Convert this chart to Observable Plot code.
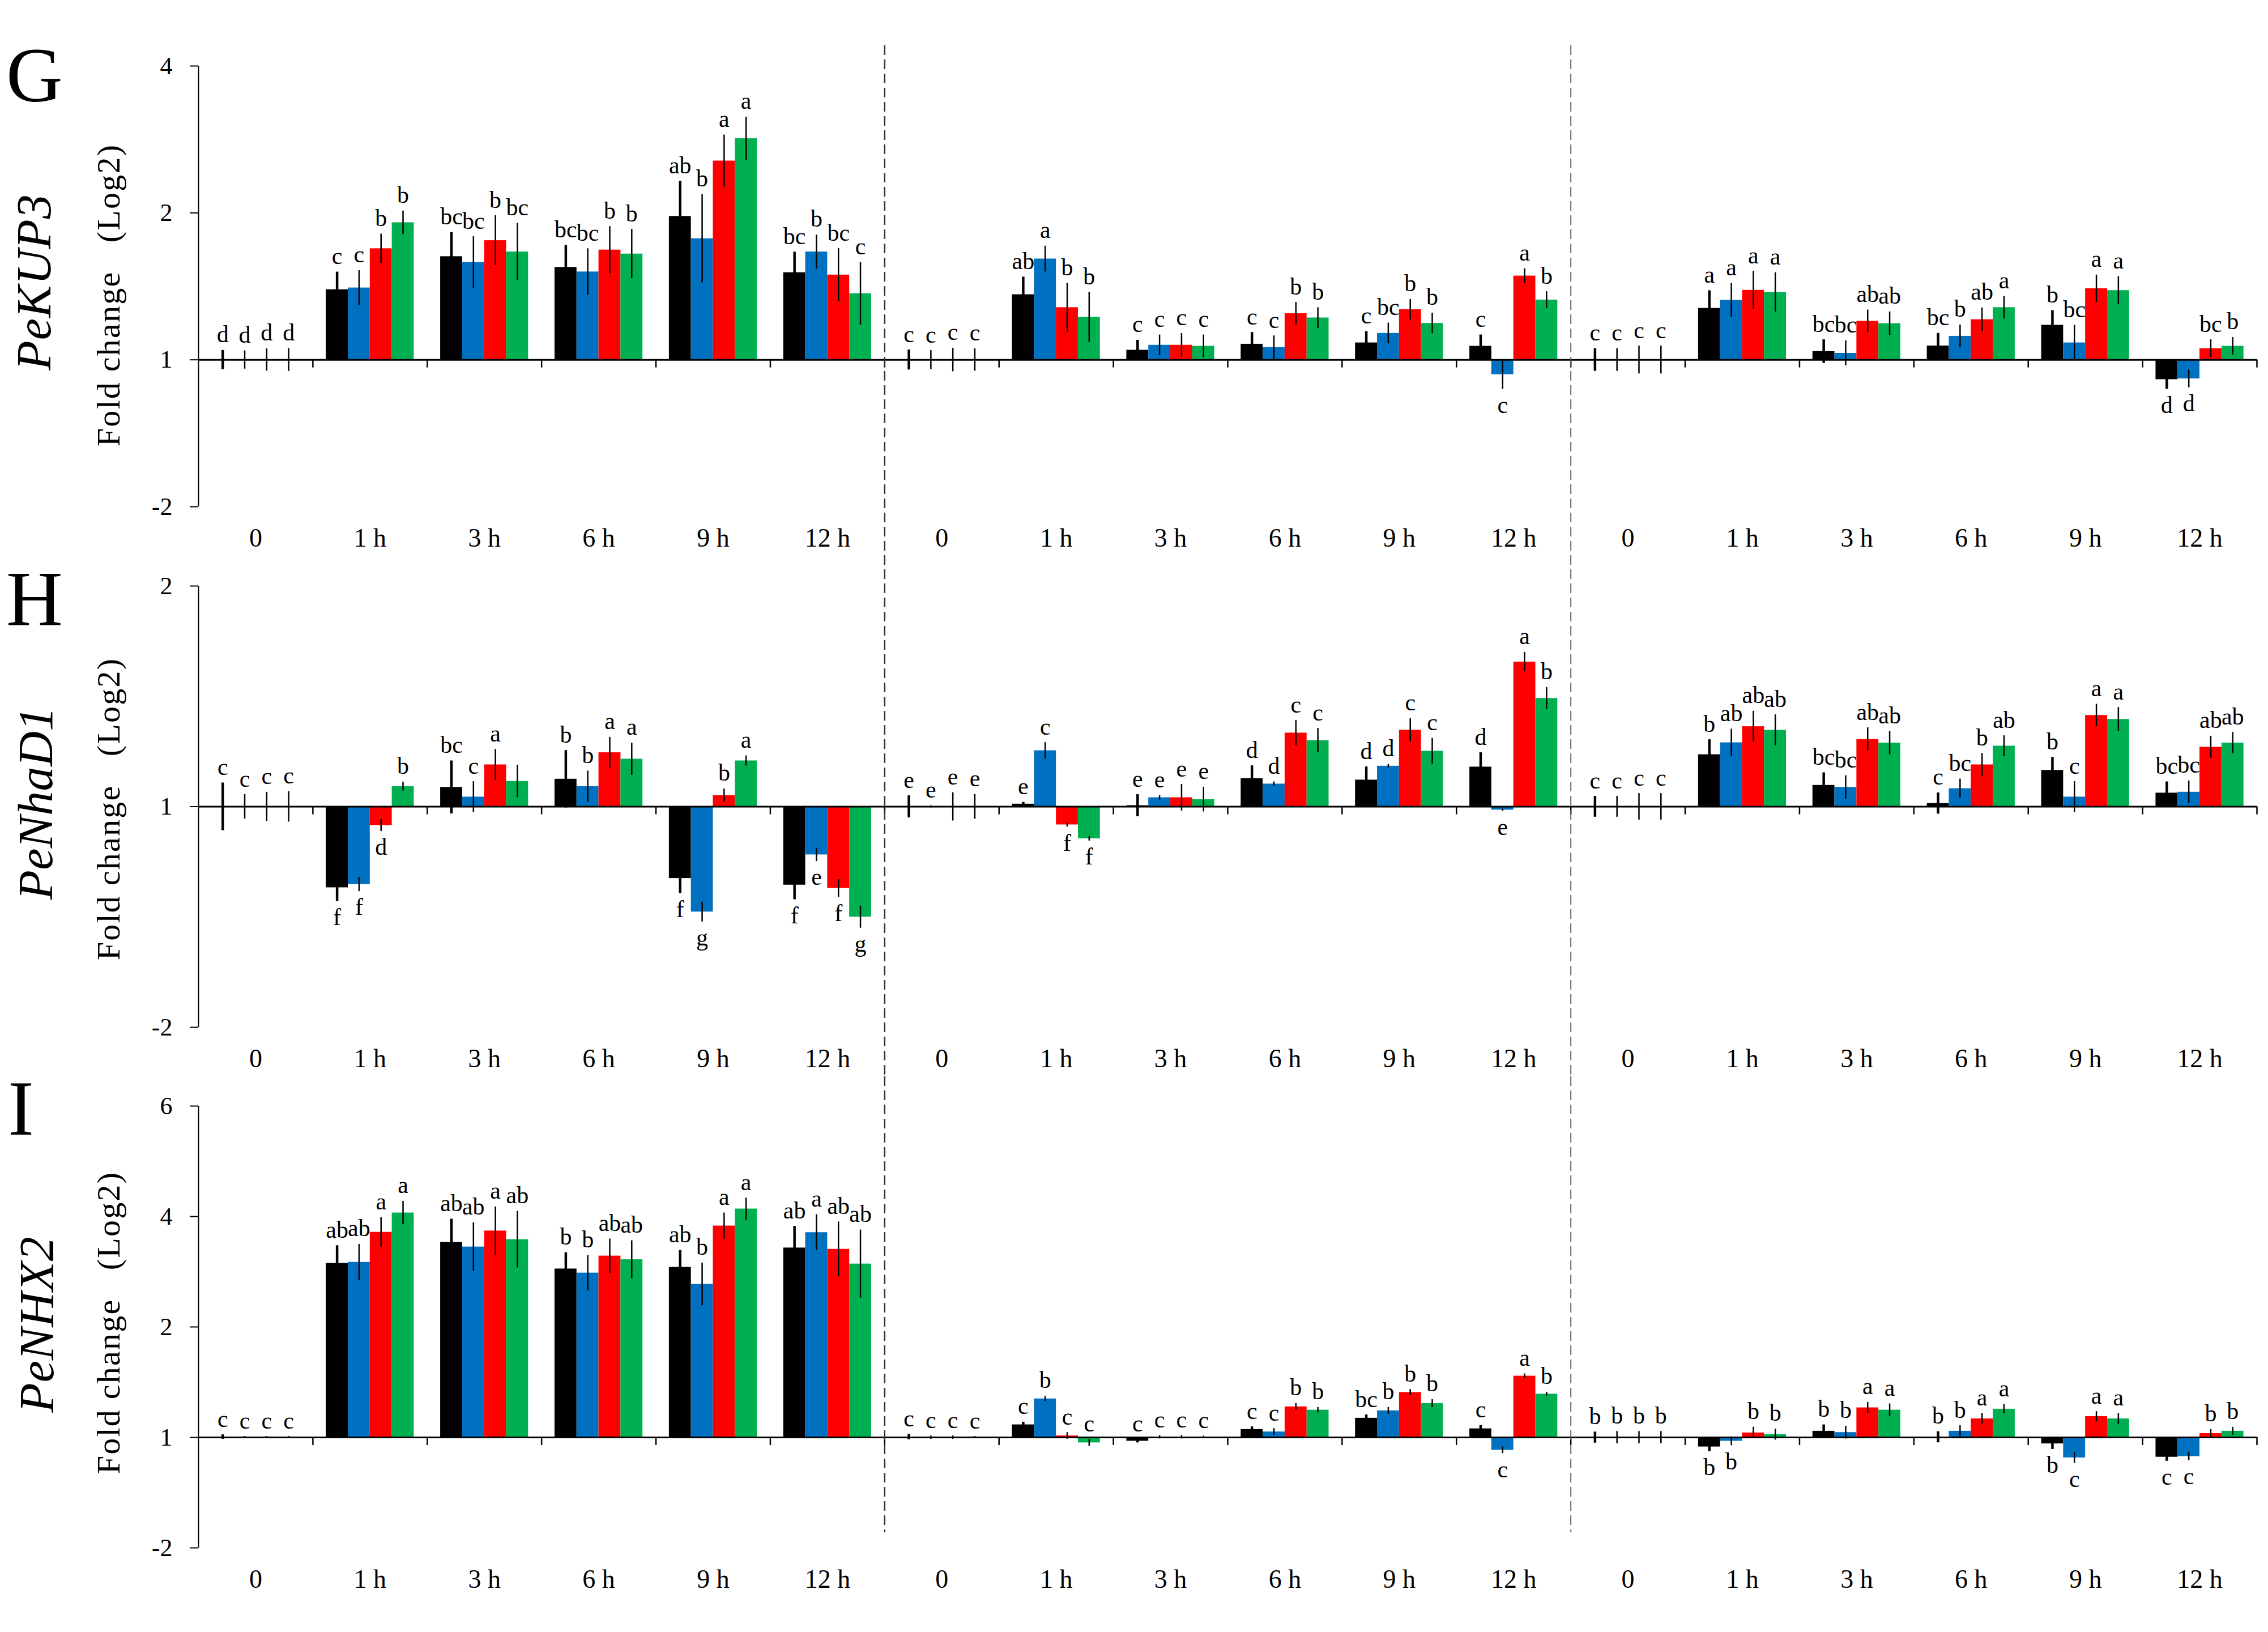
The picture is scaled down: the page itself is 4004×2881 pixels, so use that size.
<!DOCTYPE html>
<html>
<head>
<meta charset="utf-8">
<script src="https://cdn.jsdelivr.net/npm/d3@7"></script>
<script src="https://cdn.jsdelivr.net/npm/@observablehq/plot@0.6"></script>
<style>
html, body { margin: 0; padding: 0; background: #fff; }
#root { position: relative; width: 4004px; height: 2881px; overflow: hidden; font-family: "Liberation Serif", "Times New Roman", serif; color: #000; }
.panel { position: absolute; left: 0; }
.panel svg text { font-family: "Liberation Serif", "Times New Roman", serif; }
.tag { position: absolute; font-size: 138px; line-height: 1; }
.rot { position: absolute; white-space: pre; line-height: 1; transform: translate(-50%, -50%) rotate(-90deg); }
.gene { font-style: italic; font-size: 86px; }
.ylab { font-size: 58px; letter-spacing: 2px; }
</style>
</head>
<body>
<div id="root"></div>
<script>
// ---------- categories ----------
const timePoints = ["0", "1 h", "3 h", "6 h", "9 h", "12 h"];
const sectionKeys = ["A", "B", "C"];
const seriesKeys = ["S1", "S2", "S3", "S4"];
const seriesColors = ["#000000", "#0070C0", "#FF0000", "#00B050"];
const yTitle = "Fold change   (Log2)";

// ---------- G : PeKUP3 ----------
const kup3Ticks = [-1, 0, 1, 2];
const kup3TickLabels = ["-2", "1", "2", "4"];
const kup3Values = [
  [0, 0, 0, 0], [0.478, 0.49, 0.757, 0.934], [0.703, 0.664, 0.812, 0.735], [0.63, 0.599, 0.748, 0.721], [0.977, 0.825, 1.354, 1.506], [0.594, 0.735, 0.578, 0.451],
  [0, 0, 0, 0], [0.444, 0.687, 0.356, 0.29], [0.066, 0.10, 0.10, 0.093], [0.107, 0.084, 0.315, 0.286], [0.116, 0.181, 0.342, 0.249], [0.093, -0.10, 0.571, 0.408],
  [0, 0, 0, 0], [0.351, 0.406, 0.474, 0.46], [0.057, 0.045, 0.263, 0.247], [0.095, 0.161, 0.274, 0.356], [0.236, 0.116, 0.485, 0.472], [-0.134, -0.129, 0.077, 0.093]
];
const kup3Errors = [
  [0.065, 0.062, 0.076, 0.078], [0.12, 0.118, 0.10, 0.08], [0.165, 0.175, 0.17, 0.195], [0.15, 0.158, 0.16, 0.168], [0.24, 0.30, 0.177, 0.147], [0.14, 0.116, 0.18, 0.213],
  [0.068, 0.064, 0.08, 0.076], [0.12, 0.088, 0.166, 0.17], [0.068, 0.07, 0.08, 0.077], [0.08, 0.08, 0.077, 0.07], [0.077, 0.07, 0.07, 0.07], [0.077, 0.10, 0.05, 0.057],
  [0.077, 0.077, 0.095, 0.095], [0.12, 0.115, 0.13, 0.134], [0.08, 0.085, 0.077, 0.08], [0.086, 0.077, 0.08, 0.077], [0.10, 0.12, 0.093, 0.095], [0.066, 0.06, 0.06, 0.06]
];
const kup3Letters = [
  ["d", "d", "d", "d"], ["c", "c", "b", "b"], ["bc", "bc", "b", "bc"], ["bc", "bc", "b", "b"], ["ab", "b", "a", "a"], ["bc", "b", "bc", "c"],
  ["c", "c", "c", "c"], ["ab", "a", "b", "b"], ["c", "c", "c", "c"], ["c", "c", "b", "b"], ["c", "bc", "b", "b"], ["c", "c", "a", "b"],
  ["c", "c", "c", "c"], ["a", "a", "a", "a"], ["bc", "bc", "ab", "ab"], ["bc", "b", "ab", "a"], ["b", "bc", "a", "a"], ["d", "d", "bc", "b"]
];

// ---------- H : PeNhaD1 ----------
const nhad1Ticks = [-1, 0, 1];
const nhad1TickLabels = ["-2", "1", "2"];
const nhad1Values = [
  [0, 0, 0, 0], [-0.367, -0.352, -0.085, 0.092], [0.088, 0.044, 0.19, 0.115], [0.125, 0.092, 0.245, 0.216], [-0.325, -0.477, 0.051, 0.208], [-0.355, -0.218, -0.37, -0.50],
  [0, 0, 0, 0], [0.012, 0.254, -0.082, -0.145], [0.005, 0.041, 0.041, 0.033], [0.128, 0.103, 0.334, 0.30], [0.121, 0.184, 0.347, 0.252], [0.18, -0.015, 0.656, 0.491],
  [0, 0, 0, 0], [0.236, 0.29, 0.363, 0.347], [0.097, 0.088, 0.305, 0.289], [0.015, 0.082, 0.19, 0.275], [0.165, 0.044, 0.414, 0.396], [0.062, 0.066, 0.27, 0.289]
];
const nhad1Errors = [
  [0.108, 0.055, 0.066, 0.069], [0.062, 0.032, 0.027, 0.02], [0.12, 0.07, 0.07, 0.074], [0.13, 0.07, 0.07, 0.073], [0.068, 0.045, 0.03, 0.023], [0.066, 0.03, 0.04, 0.05],
  [0.05, 0.005, 0.064, 0.056], [0.008, 0.037, 0.01, 0.01], [0.05, 0.01, 0.06, 0.056], [0.058, 0.01, 0.057, 0.055], [0.06, 0.008, 0.053, 0.058], [0.065, 0.005, 0.044, 0.05],
  [0.047, 0.047, 0.06, 0.06], [0.068, 0.062, 0.07, 0.07], [0.057, 0.053, 0.053, 0.053], [0.048, 0.044, 0.052, 0.047], [0.059, 0.07, 0.051, 0.054], [0.051, 0.051, 0.05, 0.048]
];
const nhad1Letters = [
  ["c", "c", "c", "c"], ["f", "f", "d", "b"], ["bc", "c", "a", ""], ["b", "b", "a", "a"], ["f", "g", "b", "a"], ["f", "e", "f", "g"],
  ["e", "e", "e", "e"], ["e", "c", "f", "f"], ["e", "e", "e", "e"], ["d", "d", "c", "c"], ["d", "d", "c", "c"], ["d", "e", "a", "b"],
  ["c", "c", "c", "c"], ["b", "ab", "ab", "ab"], ["bc", "bc", "ab", "ab"], ["c", "bc", "b", "ab"], ["b", "c", "a", "a"], ["bc", "bc", "ab", "ab"]
];

// ---------- I : PeNHX2 ----------
const nhx2Ticks = [-1, 0, 1, 2, 3];
const nhx2TickLabels = ["-2", "1", "2", "4", "6"];
const nhx2Values = [
  [0.005, 0, 0, 0], [1.577, 1.586, 1.858, 2.033], [1.767, 1.725, 1.87, 1.792], [1.526, 1.489, 1.643, 1.61], [1.541, 1.387, 1.915, 2.069], [1.716, 1.855, 1.704, 1.571],
  [0.005, 0, 0, 0], [0.115, 0.35, 0.015, -0.048], [-0.033, 0.003, 0.003, 0.003], [0.073, 0.051, 0.278, 0.248], [0.175, 0.242, 0.408, 0.308], [0.079, -0.115, 0.556, 0.393],
  [0, 0, 0, 0], [-0.085, -0.033, 0.042, 0.027], [0.057, 0.045, 0.269, 0.248], [0.003, 0.057, 0.169, 0.257], [-0.057, -0.184, 0.19, 0.169], [-0.178, -0.172, 0.036, 0.057]
];
const nhx2Errors = [
  [0.02, 0.01, 0.01, 0.01], [0.16, 0.163, 0.133, 0.106], [0.21, 0.22, 0.218, 0.256], [0.148, 0.16, 0.155, 0.172], [0.154, 0.193, 0.118, 0.10], [0.196, 0.163, 0.248, 0.308],
  [0.025, 0.015, 0.015, 0.01], [0.024, 0.025, 0.03, 0.03], [0.015, 0.015, 0.015, 0.01], [0.024, 0.03, 0.03, 0.024], [0.03, 0.03, 0.027, 0.036], [0.03, 0.03, 0.021, 0.018],
  [0.05, 0.055, 0.055, 0.055], [0.042, 0.04, 0.052, 0.05], [0.058, 0.058, 0.05, 0.057], [0.05, 0.05, 0.05, 0.042], [0.05, 0.05, 0.045, 0.048], [0.036, 0.036, 0.036, 0.036]
];
const nhx2Letters = [
  ["c", "c", "c", "c"], ["ab", "ab", "a", "a"], ["ab", "ab", "a", "ab"], ["b", "b", "ab", "ab"], ["ab", "b", "a", "a"], ["ab", "a", "ab", "ab"],
  ["c", "c", "c", "c"], ["c", "b", "c", "c"], ["c", "c", "c", "c"], ["c", "c", "b", "b"], ["bc", "b", "b", "b"], ["c", "c", "a", "b"],
  ["b", "b", "b", "b"], ["b", "b", "b", "b"], ["b", "b", "a", "a"], ["b", "b", "a", "a"], ["b", "c", "a", "a"], ["c", "c", "b", "b"]
];
// letters of small negative bars that sit above the bar (group-series)
const nhx2LetterAbove = ["7-3", "8-0"];

// ---------- drawing ----------
const root = document.getElementById("root");
const FONT = '"Liberation Serif", "Times New Roman", serif';

function addRotated(cls, text, x, y, targetLength) {
  const el = document.createElement("div");
  el.className = "rot " + cls;
  el.textContent = text;
  el.style.left = x + "px";
  el.style.top = y + "px";
  root.appendChild(el);
  if (targetLength) {
    const base = parseFloat(getComputedStyle(el).letterSpacing) || 0;
    const w = el.offsetWidth;
    const extra = (targetLength - w) / text.length;
    el.style.letterSpacing = (base + extra) + "px";
  }
  return el;
}

function drawPanel(cfg) {
  const {tag, gene, values, errors, letters, ticks, tickLabels, top, height, marginTop, marginBottom,
         dashTop, dashBottom, letterAbove = [], tagTop, tagLeft, geneY, titleY, geneX, geneLength} = cfg;
  const pad = 0.1155, bw = 0.1922;
  const rows = [];
  values.forEach((vals, g) => vals.forEach((v, s) => {
    rows.push({
      g, s, section: sectionKeys[Math.floor(g / 6)], time: timePoints[g % 6],
      series: seriesKeys[s], value: v, err: errors[g][s], letter: letters[g][s],
      below: v < 0 && !letterAbove.includes(`${g}-${s}`)
    });
  }));
  const cx = d => d.g + pad + (d.s + 0.5) * bw;
  const y0 = ticks[0], y1 = ticks[ticks.length - 1];
  const ppu = (height - marginTop - marginBottom) / (y1 - y0);
  const groupEdges = d3.range(1, 19);
  const groupCenters = d3.range(18).map(g => g + 0.5);

  const svg = Plot.plot({
    width: 4004, height, marginLeft: 350, marginRight: 20, marginTop, marginBottom,
    x: {domain: [0, 18], axis: null},
    y: {domain: [y0, y1], axis: null},
    color: {domain: seriesKeys, range: seriesColors},
    style: {fontFamily: FONT, fontSize: "44px", background: "white", overflow: "visible", maxWidth: "none", color: "#000"},
    marks: [
      Plot.rect(rows, {x1: d => d.g + pad + d.s * bw, x2: d => d.g + pad + (d.s + 1) * bw, y1: 0, y2: "value", fill: "series"}),
      Plot.ruleY([0], {stroke: "#000", strokeWidth: 3}),
      Plot.ruleX(rows.filter(d => d.s === 0), {x: cx, y1: d => d.value - d.err, y2: d => d.value + d.err, stroke: "#000", strokeWidth: 4.5}),
      Plot.ruleX(rows.filter(d => d.s > 0), {x: cx, y1: d => d.value - d.err, y2: d => d.value + d.err, stroke: "#000", strokeWidth: 2.5}),
      Plot.ruleX(groupEdges, {y1: 0, y2: -14 / ppu, stroke: "#000", strokeWidth: 2.5}),
      Plot.ruleX([0], {stroke: "#000", strokeWidth: 2}),
      Plot.ruleX([6], {stroke: "#333", strokeWidth: 2.5, strokeDasharray: "17,8", insetTop: dashTop, insetBottom: dashBottom}),
      Plot.ruleX([12], {stroke: "#666", strokeWidth: 2, strokeDasharray: "17,8", insetTop: dashTop, insetBottom: dashBottom}),
      Plot.axisY(ticks, {anchor: "left", tickSize: 15, tickPadding: 31, strokeWidth: 2, fontFamily: FONT,
        tickFormat: d => tickLabels[ticks.indexOf(d)], fontSize: 44, label: null}),
      Plot.axisX(groupCenters, {anchor: "bottom", tickSize: 0, tickPadding: 38, fontFamily: FONT,
        tickFormat: d => timePoints[Math.floor(d) % 6], fontSize: 46, label: null}),
      Plot.text(rows.filter(d => !d.below && d.letter), {x: cx, y: d => d.value + d.err, text: "letter",
        lineAnchor: "bottom", dy: -14, fontSize: 42, fontFamily: FONT, fill: "#000"}),
      Plot.text(rows.filter(d => d.below && d.letter), {x: cx, y: d => d.value - d.err, text: "letter",
        lineAnchor: "top", dy: 12, fontSize: 42, fontFamily: FONT, fill: "#000"})
    ]
  });
  const wrap = document.createElement("div");
  wrap.className = "panel";
  wrap.style.top = top + "px";
  wrap.appendChild(svg);
  root.appendChild(wrap);

  const t = document.createElement("div");
  t.className = "tag";
  t.textContent = tag;
  t.style.left = tagLeft + "px";
  t.style.top = tagTop + "px";
  root.appendChild(t);

  addRotated("gene", gene, geneX, geneY, geneLength);
  addRotated("ylab", yTitle, 192, titleY, 535);
}

drawPanel({tag: "G", gene: "PeKUP3", values: kup3Values, errors: kup3Errors, letters: kup3Letters,
  ticks: kup3Ticks, tickLabels: kup3TickLabels, top: 0, height: 980, marginTop: 116, marginBottom: 86,
  dashTop: -36, dashBottom: -86, tagTop: 64, tagLeft: 11, geneX: 60, geneY: 498, titleY: 521, geneLength: 312});
drawPanel({tag: "H", gene: "PeNhaD1", values: nhad1Values, errors: nhad1Errors, letters: nhad1Letters,
  ticks: nhad1Ticks, tickLabels: nhad1TickLabels, top: 980, height: 920, marginTop: 54, marginBottom: 87,
  dashTop: -54, dashBottom: -87, tagTop: 988, tagLeft: 11, geneX: 63, geneY: 1418, titleY: 1428, geneLength: 341});
drawPanel({tag: "I", gene: "PeNHX2", values: nhx2Values, errors: nhx2Errors, letters: nhx2Letters,
  ticks: nhx2Ticks, tickLabels: nhx2TickLabels, top: 1900, height: 981, marginTop: 52, marginBottom: 149,
  dashTop: -52, dashBottom: 27, letterAbove: nhx2LetterAbove, tagTop: 1888, tagLeft: 14, geneX: 65, geneY: 2338, titleY: 2335, geneLength: 312});
</script>
</body>
</html>
